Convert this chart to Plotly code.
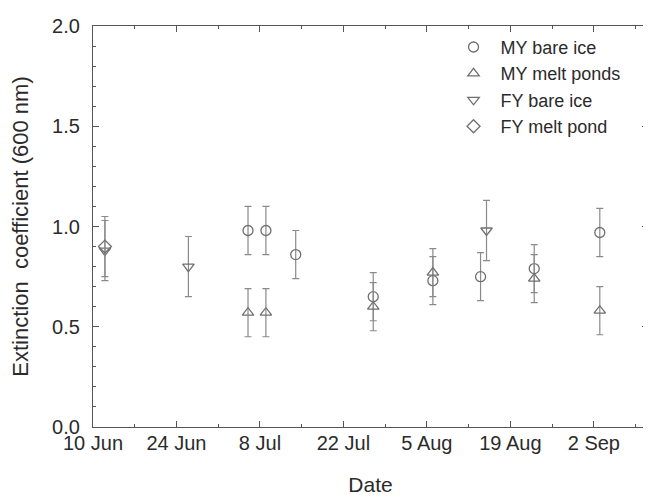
import plotly.graph_objects as go

# ---- data ----
my_bare_dates = ["2000-07-06", "2000-07-09", "2000-07-14", "2000-07-27", "2000-08-06", "2000-08-14", "2000-08-23", "2000-09-03"]
my_bare_vals = [0.98, 0.98, 0.86, 0.65, 0.73, 0.75, 0.79, 0.97]
my_bare_err = [0.12, 0.12, 0.12, 0.12, 0.12, 0.12, 0.12, 0.12]

my_pond_dates = ["2000-07-06", "2000-07-09", "2000-07-27", "2000-08-06", "2000-08-23", "2000-09-03"]
my_pond_vals = [0.57, 0.57, 0.60, 0.77, 0.74, 0.58]
my_pond_err = [0.12, 0.12, 0.12, 0.12, 0.12, 0.12]

fy_bare_dates = ["2000-06-12", "2000-06-26", "2000-08-15"]
fy_bare_vals = [0.88, 0.80, 0.98]
fy_bare_err = [0.15, 0.15, 0.15]

fy_pond_dates = ["2000-06-12"]
fy_pond_vals = [0.90]
fy_pond_err = [0.15]

tick_dates = ["2000-06-10", "2000-06-24", "2000-07-08", "2000-07-22", "2000-08-05", "2000-08-19", "2000-09-02"]
tick_labels = ["10 Jun", "24 Jun", "8 Jul", "22 Jul", "5 Aug", "19 Aug", "2 Sep"]

series = [
    ("MY bare ice", my_bare_dates, my_bare_vals, my_bare_err, "circle-open"),
    ("MY melt ponds", my_pond_dates, my_pond_vals, my_pond_err, "triangle-up-open"),
    ("FY bare ice", fy_bare_dates, fy_bare_vals, fy_bare_err, "triangle-down-open"),
    ("FY melt pond", fy_pond_dates, fy_pond_vals, fy_pond_err, "diamond-open"),
]

MARK = "#707070"
ERR = "#8a8a8a"
TXT = "#2b2b2b"
FONT = "Liberation Sans, Arial, sans-serif"

fig = go.Figure()
for i, (name, d, v, e, sym) in enumerate(series):
    fig.add_trace(go.Scatter(
        x=d, y=v, name=name, mode="markers",
        marker=dict(symbol=sym, size=10, color=MARK, line=dict(color=MARK, width=1.3)),
        error_y=dict(type="data", array=e, visible=True, color=ERR, thickness=1.2, width=3.5),
    ))

axis_common = dict(
    showline=True, linecolor="#555555", linewidth=1.2, mirror="allticks",
    ticks="inside", ticklen=6, tickwidth=1, tickcolor="#555555",
    showgrid=False, zeroline=False, automargin=False,
    tickfont=dict(family=FONT, size=20, color=TXT),
)

fig.update_xaxes(
    type="date", range=["2000-06-10", "2000-09-11 02:00"],
    tickmode="array", tickvals=tick_dates, ticktext=tick_labels,
    minor=dict(dtick=7 * 86400000, tick0="2000-06-10", ticks="inside", ticklen=3, tickcolor="#555555"),
    title=dict(text="Date", font=dict(family=FONT, size=21, color=TXT), standoff=25),
    ticklabelstandoff=-2,
    **axis_common,
)
fig.update_yaxes(
    range=[0, 2.0], tickmode="array", tickvals=[0, 0.5, 1.0, 1.5, 2.0],
    ticktext=["0.0", "0.5", "1.0", "1.5", "2.0"],
    minor=dict(dtick=0.1, ticks="inside", ticklen=3, tickcolor="#555555"),
    title=dict(text="Extinction  coefficient (600 nm)", font=dict(family=FONT, size=22, color=TXT), standoff=28),
    ticklabelstandoff=8,
    **axis_common,
)

# the page body adds an 8 px offset, so the figure is sized to fit the 651x496 window
fig.update_layout(
    width=643, height=488,
    margin=dict(l=85, r=3, t=18, b=69),
    paper_bgcolor="white", plot_bgcolor="white",
    showlegend=True,
    legend=dict(
        x=0.637, y=0.993, xanchor="left", yanchor="top",
        bgcolor="rgba(0,0,0,0)", font=dict(family=FONT, size=18, color=TXT),
        tracegroupgap=0, itemwidth=44,
    ),
)

fig.write_html("out.html")
